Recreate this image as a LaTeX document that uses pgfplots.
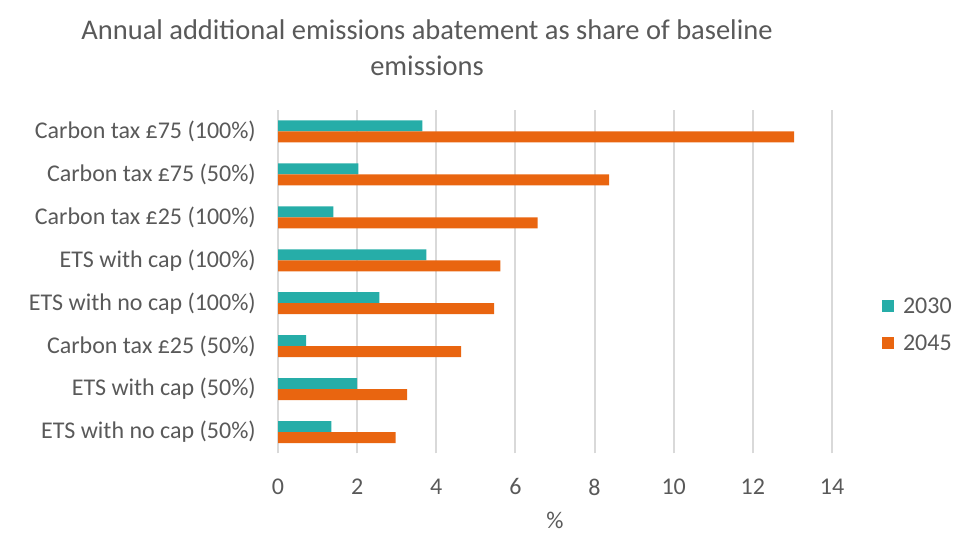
\documentclass[border=0pt]{standalone}
\usepackage{pgfplots}
\pgfplotsset{compat=1.18}
\usepackage{fontspec}
\setmainfont{Carlito}
\definecolor{c2030}{RGB}{38,173,168}
\definecolor{c2045}{RGB}{233,101,16}
\definecolor{gridgray}{RGB}{217,217,217}
\definecolor{txt}{RGB}{89,89,89}
\begin{document}
\begin{tikzpicture}
\useasboundingbox (0,0) rectangle (963pt,553pt);
\node[text=txt, font=\fontsize{28.5}{36}\selectfont, align=center] at (427pt,505pt) {Annual additional emissions abatement as share of baseline\\emissions};
\begin{axis}[
  at={(278pt,99.5pt)}, anchor=south west,
  scale only axis, width=554pt, height=343.5pt,
  xmin=0, xmax=14, ymin=-0.5, ymax=7.5,
  xbar, bar width=11pt,
  axis line style={draw=none},
  xmajorgrids, grid style={gridgray, line width=2pt},
  xtick={0,2,...,14},
  ytick={0,...,7},
  yticklabels={ETS with no cap (50\%), ETS with cap (50\%), Carbon tax £25 (50\%), ETS with no cap (100\%), ETS with cap (100\%), Carbon tax £25 (100\%), Carbon tax £75 (50\%), Carbon tax £75 (100\%)},
  major tick length=0pt,
  tick label style={font=\fontsize{24}{28}\selectfont, text=txt},
  yticklabel style={anchor=east, inner sep=0pt, xshift=-22pt},
  xticklabel style={anchor=north, inner sep=0pt, yshift=-25pt},
  /pgf/number format/assume math mode=true,
  xlabel={\%},
  xlabel style={at={(axis description cs:0.5,0)}, anchor=center, yshift=-67pt, font=\fontsize{24}{28}\selectfont, text=txt},
  legend style={at={(1.09,0.375)}, anchor=west, draw=none, fill=none, font=\fontsize{24}{28}\selectfont, text=txt, row sep=16pt, inner sep=0pt},
  legend cell align=left,
  legend image code/.code={\fill[#1] (0pt,-6pt) rectangle (12pt,6pt); \path (19pt,0pt);},
]
\addplot[fill=c2030, draw=none, bar shift=5.5pt] coordinates {
 (1.35,0) (2.00,1) (0.71,2) (2.56,3) (3.75,4) (1.40,5) (2.03,6) (3.65,7)};
\addlegendentry{2030}
\addplot[fill=c2045, draw=none, bar shift=-5.5pt] coordinates {
 (2.97,0) (3.26,1) (4.63,2) (5.46,3) (5.62,4) (6.56,5) (8.37,6) (13.04,7)};
\addlegendentry{2045}
\end{axis}
\end{tikzpicture}
\end{document}
